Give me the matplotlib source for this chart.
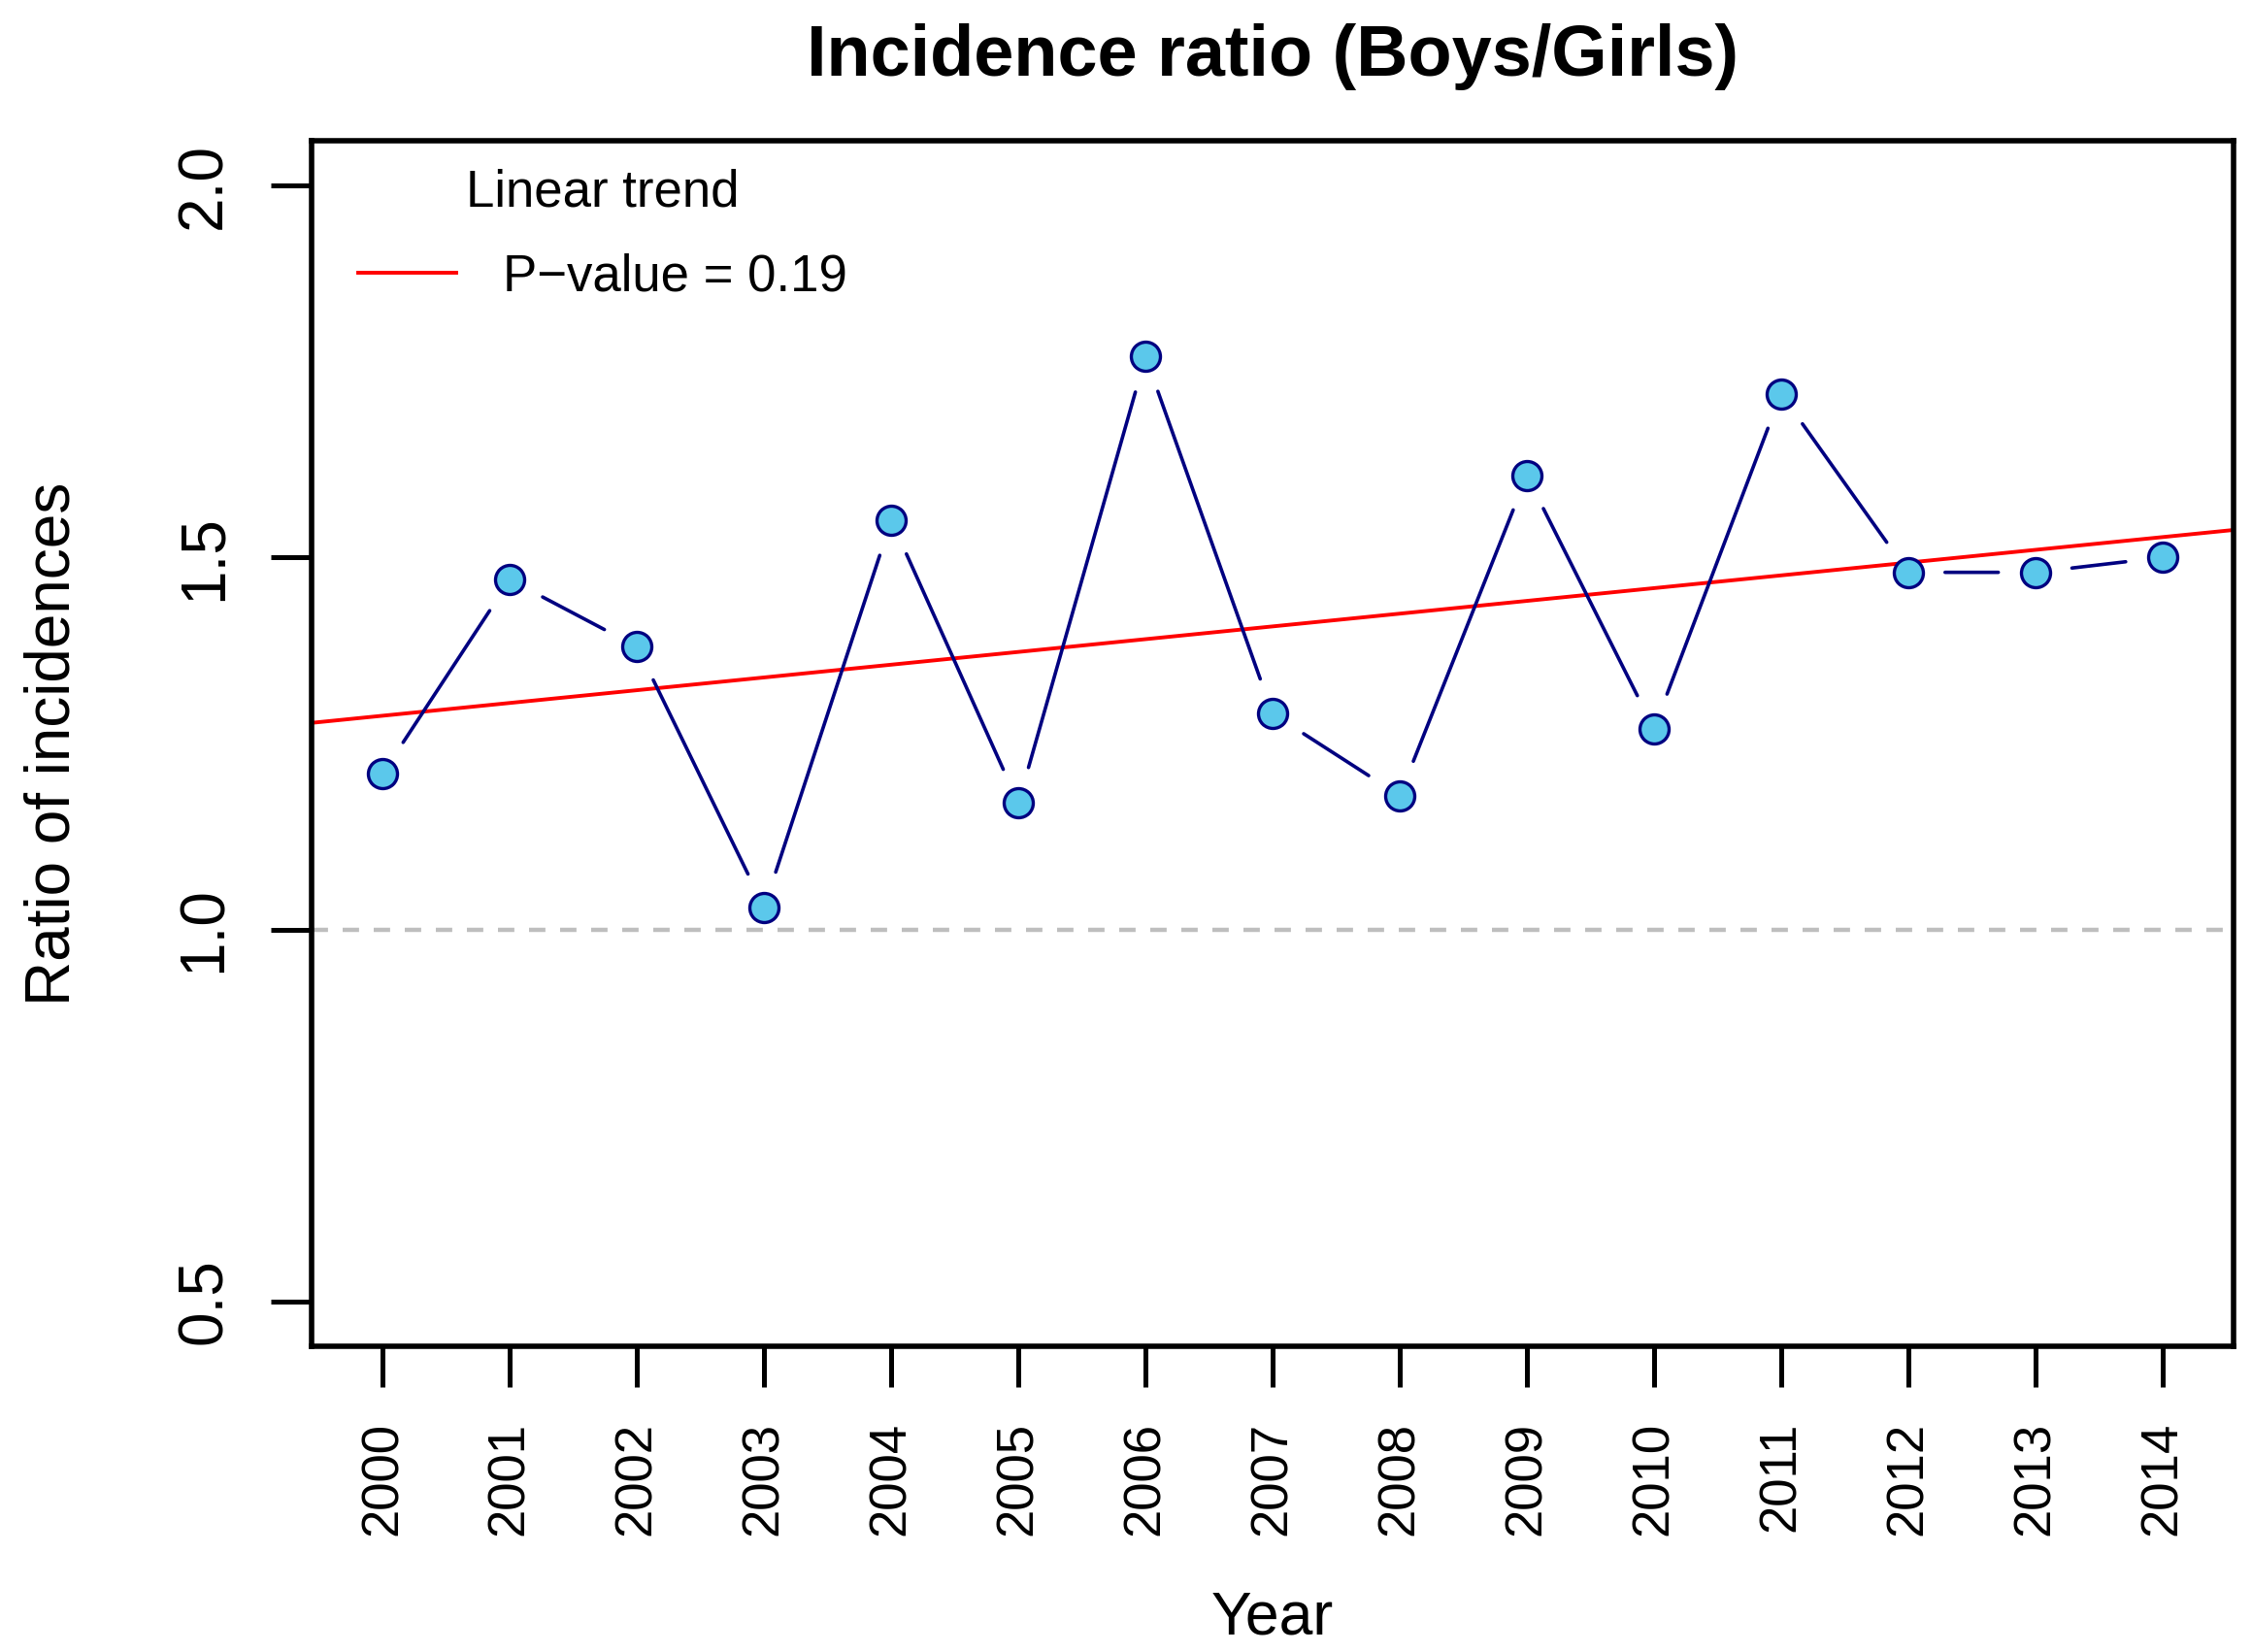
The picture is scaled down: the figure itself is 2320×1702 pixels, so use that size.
import matplotlib
matplotlib.use('Agg')
import matplotlib.pyplot as plt
import numpy as np

# ── Data ──────────────────────────────────────────────────────────────────────
years = [2000, 2001, 2002, 2003, 2004, 2005, 2006, 2007,
         2008, 2009, 2010, 2011, 2012, 2013, 2014]
ratio = [1.21, 1.47, 1.38, 1.03, 1.55, 1.17, 1.77, 1.29,
         1.18, 1.61, 1.27, 1.72, 1.48, 1.48, 1.50]
y_ticks = [0.5, 1.0, 1.5, 2.0]
y_tick_labels = ['0.5', '1.0', '1.5', '2.0']
p_value = 0.19

title = 'Incidence ratio (Boys/Girls)'
x_label = 'Year'
y_label = 'Ratio of incidences'

plt.rcParams['font.family'] = ['Liberation Sans', 'DejaVu Sans']

navy = '#000080'
fill = '#5BC8EB'

fig = plt.figure(figsize=(11.6, 8.51), dpi=200)
ax = fig.add_axes([0.1384, 0.1851, 0.8534, 0.7297])

# R-style axis ranges (4% padding)
x = np.array(years, dtype=float)
y = np.array(ratio)
xpad = 0.04 * (x.max() - x.min())
ax.set_xlim(x.min() - xpad, x.max() + xpad)
ypad = 0.04 * (max(y_ticks) - min(y_ticks))
ax.set_ylim(min(y_ticks) - ypad, max(y_ticks) + ypad)

# reference line at ratio 1
ax.axhline(1.0, color='#BEBEBE', lw=1.6, dashes=(3.8, 3.4), zorder=1)

# linear trend (OLS fit) across the whole panel
slope, intercept = np.polyfit(x, y, 1)
ax.axline((x[0], intercept + slope * x[0]), slope=slope,
          color='red', lw=1.4, zorder=2, label=f'P\u2212value = {p_value}')

# type="b": segments with gaps around the points
for i in range(len(x) - 1):
    ax.annotate('', xy=(x[i + 1], y[i + 1]), xytext=(x[i], y[i]),
                arrowprops=dict(arrowstyle='-', color=navy, lw=1.3,
                                shrinkA=13.7, shrinkB=13.7),
                zorder=3)
ax.plot(x, y, ls='none', marker='o', ms=10.8, mfc=fill, mec=navy,
        mew=1.2, zorder=4)

# ── Axes styling ──────────────────────────────────────────────────────────────
for s in ax.spines.values():
    s.set_linewidth(2.0)

ax.set_xticks(years)
ax.set_xticklabels([str(v) for v in years], rotation=90, fontsize=19,
                   va='top', ha='center')
ax.set_yticks(y_ticks)
ax.set_yticklabels(y_tick_labels, rotation=90, fontsize=23, va='center')
ax.tick_params(axis='both', direction='out', length=15, width=1.8)
ax.tick_params(axis='x', pad=13)
ax.tick_params(axis='y', pad=14)

# legend without frame, title centred above the entry
leg = ax.legend(loc='upper left', bbox_to_anchor=(0.024, 0.977),
                frameon=False, fontsize=19, title='Linear trend',
                title_fontsize=19, handlelength=1.93, handletextpad=0.9,
                borderpad=0, borderaxespad=0, labelspacing=0.5)
leg._legend_box.sep = 13.3  # points

fig.text(0.5651, 1 - 78 / 1702, title, fontsize=26.6, fontweight='bold',
         ha='center', va='baseline')
fig.text(0.5651, 1 - 1683 / 1702, x_label, fontsize=22.5, ha='center',
         va='baseline')
fig.text(55 / 2320, 1 - 766 / 1702, y_label, fontsize=23, rotation=90,
         ha='center', va='center')

fig.savefig('out.png', dpi=200)
